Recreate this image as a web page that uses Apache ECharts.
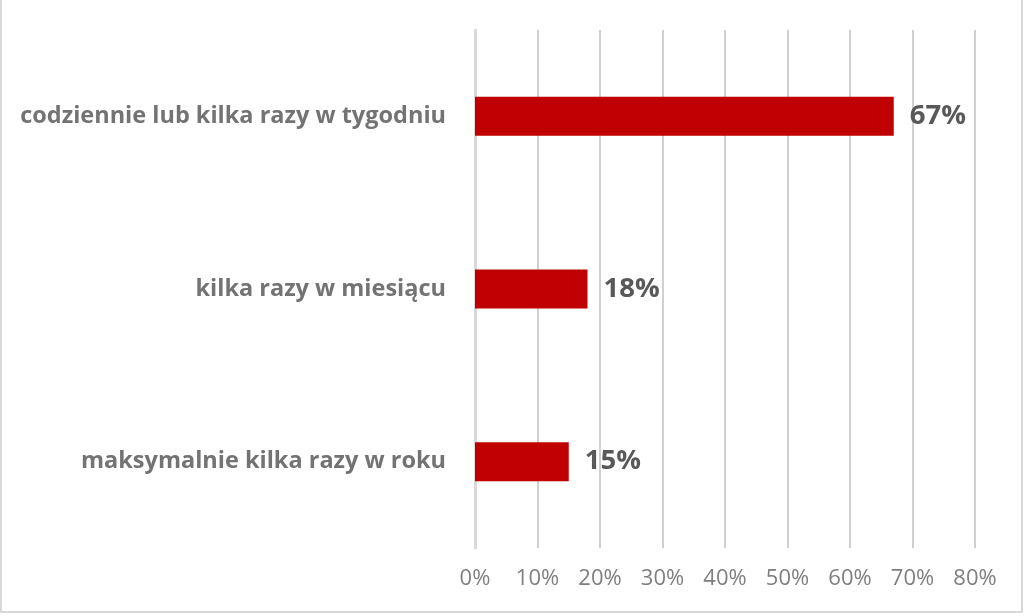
<!DOCTYPE html>
<html><head><meta charset="utf-8">
<script src="https://cdn.jsdelivr.net/npm/echarts@6/dist/echarts.min.js"></script>
<style>html,body{margin:0;padding:0;background:#fff}#c{width:1024px;height:616px}</style>
</head><body><div id="c"></div>
<script>
var categories = ['maksymalnie kilka razy w roku', 'kilka razy w miesiącu', 'codziennie lub kilka razy w tygodniu'];
var values = [15, 18, 67];
var tickMin = 0, tickMax = 80, tickStep = 10;
var chart = echarts.init(document.getElementById('c'));
chart.setOption({
  animation: false,
  graphic: [{type:'rect', shape:{x:1,y:-2,width:1021,height:614}, style:{fill:'none', stroke:'#d9d9d9', lineWidth:2}, silent:true}],
  grid: {left: 475, right: 49, top: 30, bottom: 68},
  xAxis: {
    type: 'value', min: tickMin, max: tickMax, interval: tickStep,
    axisLine: {show: false}, axisTick: {show: false},
    splitLine: {lineStyle: {color: '#d0d0d0', width: 2}},
    axisLabel: {formatter: '{value}%', color: '#7f7f7f', fontSize: 22, fontFamily: 'Open Sans', margin: 20}
  },
  yAxis: {
    type: 'category', data: categories,
    axisLine: {show: true, lineStyle: {color: '#d9d9d9', width: 3}}, axisTick: {show: false},
    axisLabel: {color: '#737373', fontSize: 23.5, fontWeight: 'bold', fontFamily: 'Open Sans', margin: 29}
  },
  series: [{
    type: 'bar', data: values, barWidth: 39,
    itemStyle: {color: '#c00000'},
    label: {show: true, position: 'right', distance: 16, formatter: '{c}%', color: '#595959', fontSize: 27.5, fontWeight: 'bold', fontFamily: 'Open Sans'}
  }]
});
</script></body></html>
